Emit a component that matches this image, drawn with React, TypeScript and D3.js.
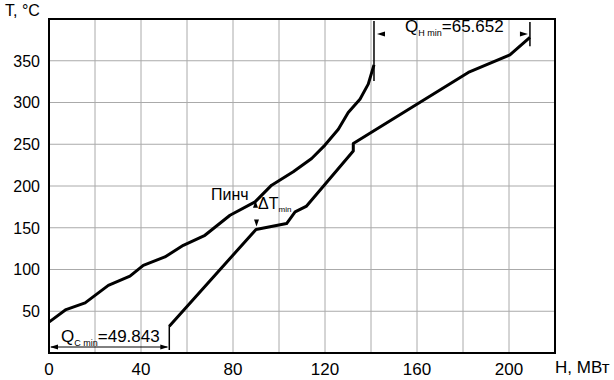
import React from 'react';
import * as d3 from 'd3';

const hotH = [0, 7.4, 15.7, 25.8, 35.2, 41, 50.4, 58.4, 67.8, 78.7, 89.6, 96.8, 106.2, 114.2, 120, 125.8, 130.1, 135.2, 138.8, 141.3];
const hotT = [37, 52, 60, 81, 92, 105, 115, 129, 141, 165, 181, 201, 217, 233, 249, 268, 288, 304, 322, 345];
const coldH = [52.3, 90, 103.3, 107, 112, 132.3, 132.3, 182.3, 200.4, 209.1];
const coldT = [32, 148, 155, 169, 176, 242, 251, 336, 357, 378];

const xTicks = [0, 40, 80, 120, 160, 200];
const yTicks = [50, 100, 150, 200, 250, 300, 350];
const xGrid = [20, 40, 60, 80, 100, 120, 140, 160, 180, 200];

const qHminLabel = '=65.652';
const qCminLabel = '=49.843';
const pinchH = 90;

const FONT = '"Liberation Sans", Arial, sans-serif';

export default function App() {
  const x = d3.scaleLinear().domain([0, 220]).range([49, 555]);
  const y = d3.scaleLinear().domain([0, 400]).range([353, 19]);

  const hotPts: [number, number][] = hotH.map((h, i) => [x(h), y(hotT[i])]);
  const coldPts: [number, number][] = coldH.map((h, i) => [x(h), y(coldT[i])]);
  const lp = d3.line();
  const hotPath = lp(hotPts) || '';
  const coldPath = lp(coldPts) || '';

  const interp = (hs: number[], ts: number[], h: number) => {
    for (let i = 0; i < hs.length - 1; i++) {
      if (h >= hs[i] && h <= hs[i + 1] && hs[i + 1] > hs[i]) {
        return ts[i] + ((h - hs[i]) / (hs[i + 1] - hs[i])) * (ts[i + 1] - ts[i]);
      }
    }
    return ts[0];
  };

  const px = x(pinchH) - 0.5;
  const yHotP = y(interp(hotH, hotT, pinchH - 0.3));
  const yColdP = y(interp(coldH, coldT, pinchH));

  const hotEndX = x(hotH[hotH.length - 1]);
  const coldEndX = x(coldH[coldH.length - 1]);
  const coldStartX = x(coldH[0]);
  const hotEndY = y(hotT[hotT.length - 1]);
  const coldEndY = y(coldT[coldT.length - 1]);
  const coldStartY = y(coldT[0]);

  const arrowL = (tx: number, ty: number) => `M${tx},${ty} L${tx + 8},${ty - 2.5} L${tx + 8},${ty + 2.5} Z`;
  const arrowR = (tx: number, ty: number) => `M${tx},${ty} L${tx - 8},${ty - 2.5} L${tx - 8},${ty + 2.5} Z`;
  const arrowU = (tx: number, ty: number) => `M${tx},${ty} L${tx - 2.5},${ty + 7} L${tx + 2.5},${ty + 7} Z`;
  const arrowD = (tx: number, ty: number) => `M${tx},${ty} L${tx - 2.5},${ty - 7} L${tx + 2.5},${ty - 7} Z`;

  const qhY = 34;
  const qcY = 347;

  return (
    <svg
      width={614}
      height={380}
      style={{ position: 'absolute', left: 0, top: 0, background: '#fff' }}
      fontFamily={FONT}
    >
      <rect x={0} y={0} width={614} height={380} fill="#fff" />
      {xGrid.map((g) => (
        <line key={'gx' + g} x1={x(g)} x2={x(g)} y1={y(0)} y2={y(400)} stroke="#aaa" strokeWidth={1} />
      ))}
      {yTicks.map((g) => (
        <line key={'gy' + g} x1={x(0)} x2={x(220)} y1={y(g)} y2={y(g)} stroke="#aaa" strokeWidth={1} />
      ))}
      <rect x={x(0)} y={y(400)} width={x(220) - x(0)} height={y(0) - y(400)} fill="none" stroke="#000" strokeWidth={2} />

      {yTicks.map((t) => (
        <text key={'yt' + t} x={40} y={y(t)} dy="0.36em" textAnchor="end" fontSize={16} fill="#000">
          {t}
        </text>
      ))}
      {xTicks.map((t) => (
        <text key={'xt' + t} x={x(t)} y={375} textAnchor="middle" fontSize={17} fill="#000">
          {t}
        </text>
      ))}
      <text x={5} y={16} fontSize={16} fill="#000">T, °C</text>
      <text x={555} y={373} fontSize={17} fill="#000">H, МВт</text>

      <path d={hotPath} fill="none" stroke="#000" strokeWidth={3} strokeLinejoin="round" />
      <path d={coldPath} fill="none" stroke="#000" strokeWidth={3} strokeLinejoin="round" />

      <line x1={hotEndX} x2={hotEndX} y1={21} y2={hotEndY + 16} stroke="#000" strokeWidth={1.5} />
      <line x1={coldEndX} x2={coldEndX} y1={22} y2={coldEndY + 9} stroke="#000" strokeWidth={1.5} />
      <path d={arrowL(hotEndX + 3, qhY)} fill="#000" />
      <path d={arrowR(coldEndX - 2, qhY)} fill="#000" />
      <text x={405} y={32} fontSize={17} fill="#000">
        Q<tspan fontSize={9} dy={4}>H min</tspan>
        <tspan dy={-4}>{qHminLabel}</tspan>
      </text>

      <line x1={coldStartX} x2={coldStartX} y1={coldStartY - 1} y2={350} stroke="#000" strokeWidth={1.5} />
      <line x1={x(0) + 2} x2={coldStartX - 2} y1={qcY} y2={qcY} stroke="#000" strokeWidth={1} />
      <path d={arrowL(x(0) + 1, qcY)} fill="#000" />
      <path d={arrowR(coldStartX - 1, qcY)} fill="#000" />
      <text x={61} y={342} fontSize={17} fill="#000">
        Q<tspan fontSize={9} dy={4}>C min</tspan>
        <tspan dy={-4}>{qCminLabel}</tspan>
      </text>

      <text x={211} y={200} fontSize={16} fill="#000">Пинч</text>
      <path d={arrowU(px, yHotP - 1)} fill="#000" />
      <path d={arrowD(px + 1, yColdP - 3)} fill="#000" />
      <text x={258} y={209} fontSize={16} fill="#000">
        ΔT<tspan fontSize={8} dy={3}>min</tspan>
      </text>
    </svg>
  );
}
